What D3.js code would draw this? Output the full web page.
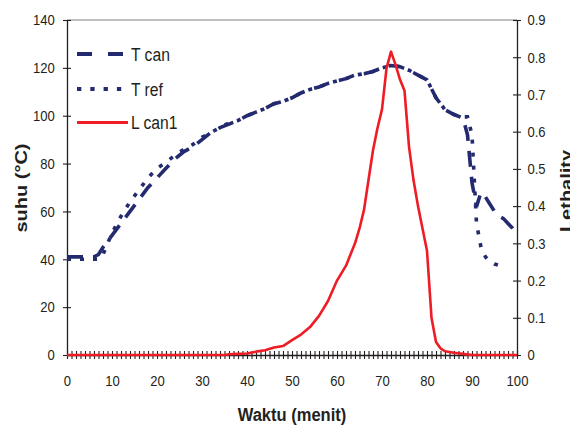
<!DOCTYPE html>
<html>
<head>
<meta charset="utf-8">
<script src="https://cdn.jsdelivr.net/npm/d3@7"></script>
<style>
  body { margin: 0; background: #fff; }
  text { font-family: "Liberation Sans", Arial, sans-serif; fill: #231f20; }
</style>
</head>
<body>
<div id="chart"></div>
<script>
// data
var waktuCan = [0,2,4,6,7,8,10,12,14,16,18,20,22,24,26,28,30,32,34,36,38,40,42,44,46,48,50,52,54,56,58,60,62,64,66,68,70,72,74,76,78,80,82,84,86,88,89,90,91,92,93,94,95,96,97,98,99,100];
var suhuCan  = [41,41,41,41,42,45,50,55,60,65,70,74,78,82,85,87,90,93,95,96.5,98,100,101.5,103,105,106,107.5,109.5,111,112,113.5,114.5,115.5,117,117.5,118.5,120,121,120.5,119,117,115,107.5,102.5,100.5,99,92,72,62,68,66,63,60,58,57,55,53,50];

var waktuRef = [0,2,4,6,7,8,10,12,14,16,18,20,22,24,26,28,30,32,34,36,38,40,42,44,46,48,50,52,54,56,58,60,62,64,66,68,70,72,74,76,78,80,82,84,86,88,89,90,91,92,93,94,95,96,97];
var suhuRef  = [40,40,40,40,40,42,51,58,64,69,74,78,80.5,83.5,86,88,91,93,95,97,98,100,101.5,103,105,106,107.5,109.5,111,112,113.5,114.5,115.5,117,117.5,118.5,120,121,120.5,119,117,115,107.5,102.5,100.5,99.5,99.5,92,55,45,41,39,38,37.5,37];

var waktuL = [0,35,36,38,40,42,44,46,48,50,52,54,56,58,60,62,64,65,66,67,68,69,70,71,72,73,74,75,76,77,78,79,80,81,82,83,84,86,88,90,100];
var lethal = [0,0,0.002,0.003,0.004,0.009,0.013,0.02,0.024,0.04,0.055,0.075,0.105,0.145,0.2,0.24,0.30,0.34,0.39,0.47,0.55,0.61,0.66,0.77,0.815,0.78,0.74,0.71,0.56,0.47,0.40,0.34,0.28,0.1,0.035,0.018,0.01,0.006,0.003,0,0];

var waktuTicks = [0,10,20,30,40,50,60,70,80,90,100];
var suhuTicks = [0,20,40,60,80,100,120,140];
var lethTicks = [0,0.1,0.2,0.3,0.4,0.5,0.6,0.7,0.8,0.9];
var lethTickLabels = ["0","0.1","0.2","0.3","0.4","0.5","0.6","0.7","0.8","0.9"];

var seriesNames = ["T can", "T ref", "L can1"];

// sizes
var W = 570, H = 427;
var plot = {left: 67, right: 517, top: 20, bottom: 355};
var navy = "#232a6f", red = "#ee1c25";
var sx = 0.87; // the picture is a little squeezed sideways

var svg = d3.select("#chart")
  .append("svg")
    .attr("width", W)
    .attr("height", H);

var x = d3.scaleLinear().domain([0, 100]).range([plot.left, plot.right]);
var yL = d3.scaleLinear().domain([0, 140]).range([plot.bottom, plot.top]);
var yR = d3.scaleLinear().domain([0, 0.9]).range([plot.bottom, plot.top]);

// top border of plot area
svg.append("line")
  .attr("x1", plot.left).attr("x2", plot.right)
  .attr("y1", plot.top).attr("y2", plot.top)
  .attr("stroke", "#808080").attr("stroke-width", 1);

// left axis
var gL = svg.append("g")
  .attr("transform", "translate(" + plot.left + ",0)")
  .call(d3.axisLeft(yL).tickValues(suhuTicks).tickSize(4).tickSizeOuter(0).tickPadding(10));
gL.selectAll(".tick line").attr("x1", 4);

// right axis
var gR = svg.append("g")
  .attr("transform", "translate(" + plot.right + ",0)")
  .call(d3.axisRight(yR).tickValues(lethTicks).tickSize(4).tickSizeOuter(0).tickPadding(8)
    .tickFormat(function(d, i) { return lethTickLabels[i]; }));
gR.selectAll(".tick line").attr("x1", -4);

// bottom axis, one tick each minute, label each 10
var gB = svg.append("g")
  .attr("transform", "translate(0," + plot.bottom + ")")
  .call(d3.axisBottom(x).tickValues(d3.range(0, 101)).tickSize(4).tickSizeOuter(0).tickPadding(16)
    .tickFormat(function(d) { return waktuTicks.indexOf(d) >= 0 ? d : ""; }));
gB.selectAll(".tick line").attr("y1", -4);

[gL, gR, gB].forEach(function(g) {
  g.attr("font-size", null).attr("font-family", null);
  g.select(".domain").attr("stroke", "#231f20").attr("stroke-width", 1.3);
  g.selectAll(".tick line").attr("stroke", "#231f20").attr("stroke-width", 1.1);
  g.selectAll(".tick text")
    .attr("transform", "scale(" + sx + ",1)")
    .attr("fill", "#231f20")
    .style("font-size", "15px");
});

// axis titles
svg.append("text")
  .attr("transform", "translate(27,188) rotate(-90) scale(1," + sx + ")")
  .attr("text-anchor", "middle")
  .style("font-size", "20px").style("font-weight", "bold")
  .text("suhu (°C)");

// right title is cut by the edge in the original too
svg.append("text")
  .attr("transform", "translate(572,191) rotate(-90) scale(1," + sx + ")")
  .attr("text-anchor", "middle")
  .style("font-size", "20px").style("font-weight", "bold")
  .text("Lethality");

svg.append("text")
  .attr("transform", "translate(292,421) scale(" + sx + ",1)")
  .attr("text-anchor", "middle")
  .style("font-size", "19px").style("font-weight", "bold")
  .text("Waktu (menit)");

// lines
var lineL = d3.line()
  .x(function(d) { return x(d[0]); })
  .y(function(d) { return yL(d[1]); });
var lineR = d3.line()
  .x(function(d) { return x(d[0]); })
  .y(function(d) { return yR(d[1]); });

svg.append("path")
  .datum(d3.zip(waktuCan, suhuCan))
  .attr("d", lineL)
  .attr("fill", "none")
  .attr("stroke", navy)
  .attr("stroke-width", 3.6)
  .attr("stroke-dasharray", "16,10");

svg.append("path")
  .datum(d3.zip(waktuRef, suhuRef))
  .attr("d", lineL)
  .attr("fill", "none")
  .attr("stroke", navy)
  .attr("stroke-width", 3.6)
  .attr("stroke-dasharray", "4,9");

svg.append("path")
  .datum(d3.zip(waktuL, lethal))
  .attr("d", lineR)
  .attr("fill", "none")
  .attr("stroke", red)
  .attr("stroke-width", 2.6)
  .attr("stroke-linejoin", "round");

// legend
var legY = [54, 89, 122.5];
var legDash = ["15,16", "4.3,9", null];
var legColor = [navy, navy, red];
var legWidth = [3.8, 3.8, 2.8];

var leg = svg.append("g");
seriesNames.forEach(function(name, i) {
  leg.append("line")
    .attr("x1", 77).attr("x2", 128)
    .attr("y1", legY[i]).attr("y2", legY[i])
    .attr("stroke", legColor[i])
    .attr("stroke-width", legWidth[i])
    .attr("stroke-dasharray", legDash[i]);
  leg.append("text")
    .attr("transform", "translate(131," + (legY[i] + 6.5) + ") scale(" + sx + ",1)")
    .style("font-size", "18px")
    .text(name);
});
</script>
</body>
</html>
